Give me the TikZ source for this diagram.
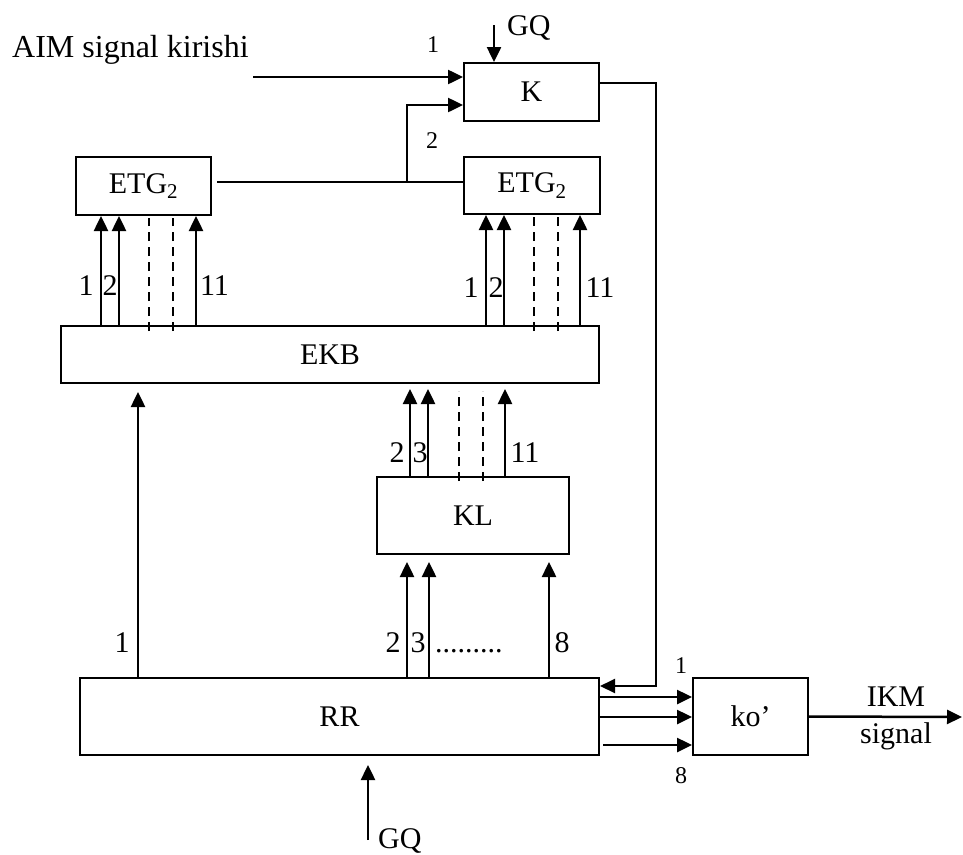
\documentclass[tikz,border=0pt]{standalone}
\usepackage{fontspec}
\setmainfont{Liberation Serif}
\usetikzlibrary{arrows.meta}
\begin{document}
\begin{tikzpicture}[x=1pt,y=-1pt,
  box/.style={draw, line width=2pt, inner sep=0pt, font=\fontsize{30}{36}\selectfont},
  arr/.style={line width=2.5pt, -{Triangle[length=15pt,width=14pt]}},
  thinarr/.style={line width=2pt, -{Triangle[length=15pt,width=14pt]}},
  thinline/.style={line width=2pt},
  dline/.style={line width=2pt, dash pattern=on 9pt off 6pt},
  lbl/.style={font=\fontsize{30}{36}\selectfont, inner sep=0pt},
  slbl/.style={font=\fontsize{24}{28}\selectfont, inner sep=0pt}]
\useasboundingbox (0,0) rectangle (963,854);

% boxes
\node[box, minimum width=135pt, minimum height=58pt] (K) at (531.5,92) {K};
\node[box, minimum width=135pt, minimum height=58pt] (ETGL) at (143.5,186) {ETG\textsubscript{2}};
\node[box, minimum width=136pt, minimum height=57pt] (ETGR) at (532,185.5) {ETG\textsubscript{2}};
\node[box, minimum width=538pt, minimum height=57pt] (EKB) at (330,354.5) {EKB};
\node[box, minimum width=192pt, minimum height=77pt] (KL) at (473,515.5) {KL};
\node[box, minimum width=519pt, minimum height=77pt] (RR) at (339.5,716.5) {RR};
\node[box, minimum width=115pt, minimum height=77pt] (KO) at (750.5,716.5) {ko’};

% column coordinates
\foreach \n/\x in {L1/101, L2/119, LD1/149, LD2/173, L11/196,
                   R1/486, R2/504, RD1/534, RD2/558, R11/580,
                   K2/410, K3/428, KD1/459, KD2/483, K11/505,
                   Q2/407, Q3/429, Q8/549, E1/138}
  \coordinate (c\n) at (\x,0);

% EKB -> ETG2 (left)
\foreach \n in {L1,L2,L11} \draw[arr] (EKB.north -| c\n) -- (ETGL.south -| c\n);
\foreach \n in {LD1,LD2} \draw[dline, shorten <=-6pt, shorten >=2pt] (EKB.north -| c\n) -- (ETGL.south -| c\n);
% EKB -> ETG2 (right)
\foreach \n in {R1,R2,R11} \draw[arr] (EKB.north -| c\n) -- (ETGR.south -| c\n);
\foreach \n in {RD1,RD2} \draw[dline, shorten <=-6pt, shorten >=2pt] (EKB.north -| c\n) -- (ETGR.south -| c\n);
% KL -> EKB
\foreach \n in {K2,K3,K11} \draw[arr, shorten >=5pt] (KL.north -| c\n) -- (EKB.south -| c\n);
\foreach \n in {KD1,KD2} \draw[dline, shorten <=-5pt, shorten >=7pt] (KL.north -| c\n) -- (EKB.south -| c\n);
% RR -> KL
\foreach \n in {Q2,Q3,Q8} \draw[arr, shorten >=7pt] (RR.north -| c\n) -- (KL.south -| c\n);
% RR -> EKB
\draw[arr, shorten >=8pt] (RR.north -| cE1) -- (EKB.south -| cE1);

% inputs to K
\coordinate (aimS) at (253,77);
\draw[arr] (aimS) -- ([yshift=15pt]K.west);
\coordinate (gqS) at (494,25);
\draw[arr] (gqS) -- (K.north -| gqS);
\coordinate (j) at (407,182);
\draw[thinline, shorten <=5pt] (ETGL.east |- j) -- (ETGR.west |- j);
\draw[arr] (j) |- ([yshift=-13pt]K.west);

% K feedback to RR
\coordinate (fb) at (656,400);
\draw[thinarr] ([yshift=9pt]K.east) -| (fb) |- ([yshift=30.5pt]RR.east);

% RR -> ko'
\draw[arr] ([yshift=19.5pt]RR.east) -- ([yshift=19.5pt]KO.west);
\draw[arr] ([yshift=-0.5pt]RR.east) -- ([yshift=-0.5pt]KO.west);
\draw[arr, shorten <=3pt] ([yshift=-28.5pt]RR.east) -- ([yshift=-28.5pt]KO.west);

% output
\coordinate (outp) at (962,717);
\draw[arr] (KO.east) -- (outp);

% GQ bottom
\coordinate (gqb) at (368,840);
\draw[arr, shorten >=9pt] (gqb) -- (RR.south -| gqb);

% labels
\node[inner sep=0pt, font=\fontsize{32}{38}\selectfont, anchor=base west] (aim) at (12,57) {AIM signal kirishi};
\node[slbl, anchor=base] (t1) at (433,52) {1};
\node[lbl, anchor=base west] (gqtop) at (507,35) {GQ};
\node[slbl, anchor=base] (t2) at (432,148) {2};

\node[lbl, anchor=base] (la1) at (86,295) {1};
\node[lbl, anchor=base] (la2) at (110,295) {2};
\node[lbl, anchor=base] (la11) at (214.5,295) {11};
\node[lbl, anchor=base] (ra1) at (471,297) {1};
\node[lbl, anchor=base] (ra2) at (496,297) {2};
\node[lbl, anchor=base] (ra11) at (600,297) {11};

\node[lbl, anchor=base] (kl2) at (397,462) {2};
\node[lbl, anchor=base] (kl3) at (420,462) {3};
\node[lbl, anchor=base] (kl11) at (525,462) {11};

\node[lbl, anchor=base] (rr1) at (122,652) {1};
\node[lbl, anchor=base] (rr2) at (393,652) {2};
\node[lbl, anchor=base] (rr3) at (418,652) {3};
\node[lbl, anchor=base west] (rrdots) at (435,652) {.........};
\node[lbl, anchor=base] (rr8) at (562,652) {8};

\node[slbl, anchor=base] (ko1) at (681,673) {1};
\node[slbl, anchor=base] (ko8) at (681,783) {8};

\node[lbl, anchor=base] (ikm) at (896,706) {IKM};
\node[lbl, anchor=base] (sig) at (896,743) {signal};

\node[lbl, anchor=base west] (gqbot) at (378,848) {GQ};
\end{tikzpicture}
\end{document}
